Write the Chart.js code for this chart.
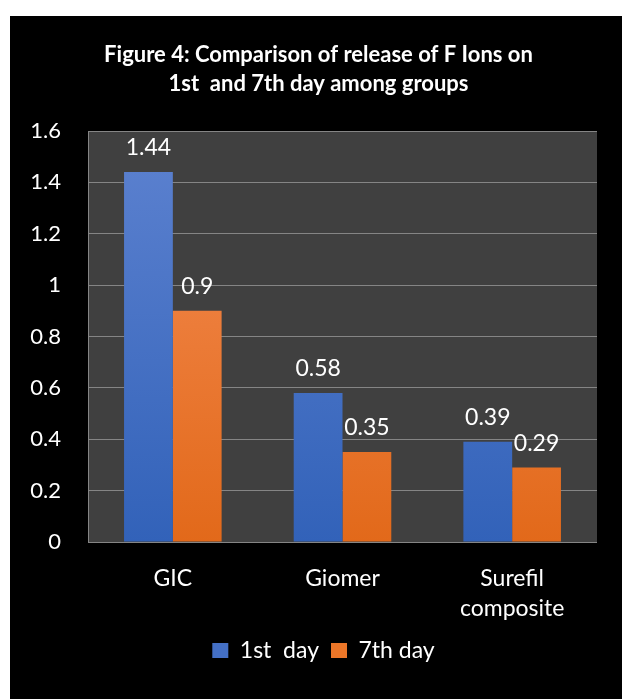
<!DOCTYPE html>
<html>
<head>
<meta charset="utf-8">
<script src="https://cdn.jsdelivr.net/npm/chart.js@4/dist/chart.umd.min.js"></script>
<style>
    body { margin: 0; background: #ffffff; }
    #box { position: absolute; left: 10px; top: 16px; width: 612px; height: 683px; background: #000000; }
</style>
</head>
<body>
<div id="box"><canvas id="barC" width="612" height="683"></canvas></div>
<script>
const groups = ["GIC", "Giomer", ["Surefil", "composite"]];
const day1 = [1.44, 0.58, 0.39];
const day7 = [0.9, 0.35, 0.29];
const seriesNames = ["1st  day", "7th day"];
const titleLines = ["Figure 4: Comparison of release of F Ions on", "1st  and 7th day among groups"];

const fontName = "Lato, 'Noto Sans', sans-serif";

function makeGrad(ctx, top, bottom) {
    let area = ctx.chart.chartArea;
    if (!area) return bottom;
    let g = ctx.chart.ctx.createLinearGradient(0, area.top, 0, area.bottom);
    g.addColorStop(0, top);
    g.addColorStop(1, bottom);
    return g;
}

// dark grey plot area behind the bars
const plotBack = {
    id: "plotBack",
    beforeDraw(chart) {
        let a = chart.chartArea;
        chart.ctx.save();
        chart.ctx.fillStyle = "#404040";
        chart.ctx.fillRect(a.left, a.top, a.right - a.left, a.bottom - a.top);
        chart.ctx.restore();
    },
};

// title and legend sit a bit right of the canvas centre in the original
const nudge = {
    id: "nudge",
    afterLayout(chart) {
        if (chart.titleBlock) {
            chart.titleBlock.left += 15;
            chart.titleBlock.right += 15;
        }
        if (chart.legend) {
            chart.legend.left += 20;
            chart.legend.right += 20;
        }
    },
};

// value labels above each bar
const barValues = {
    id: "barValues",
    afterDatasetsDraw(chart) {
        let c = chart.ctx;
        c.save();
        c.fillStyle = "#ffffff";
        c.font = "23px " + fontName;
        c.textAlign = "center";
        c.textBaseline = "alphabetic";
        chart.data.datasets.forEach((ds, i) => {
            chart.getDatasetMeta(i).data.forEach((bar, j) => {
                c.fillText(String(ds.data[j]), bar.x, bar.y - 17);
            });
        });
        c.restore();
    },
};

new Chart(document.getElementById("barC"), {
    type: "bar",
    data: {
        labels: groups,
        datasets: [
            {
                label: seriesNames[0],
                data: day1,
                backgroundColor: (ctx) => makeGrad(ctx, "#5d82d0", "#3262b9"),
                borderWidth: 0,
            },
            {
                label: seriesNames[1],
                data: day7,
                backgroundColor: (ctx) => makeGrad(ctx, "#f58d55", "#e2691a"),
                borderWidth: 0,
            },
        ],
    },
    options: {
        responsive: false,
        animation: false,
        layout: { padding: { left: 0, right: 25, top: 0, bottom: 27 } },
        datasets: { bar: { barPercentage: 1, categoryPercentage: 0.575 } },
        plugins: {
            title: {
                display: true,
                text: titleLines,
                color: "#ffffff",
                font: { family: fontName, size: 22, weight: "bold", lineHeight: "29px" },
                padding: { top: 24, bottom: 33 },
            },
            legend: {
                position: "bottom",
                labels: {
                    color: "#ffffff",
                    font: { family: fontName, size: 23 },
                    boxWidth: 16,
                    boxHeight: 15,
                    padding: 12,
                    generateLabels(chart) {
                        let items = Chart.defaults.plugins.legend.labels.generateLabels(chart);
                        let cols = ["#4470c6", "#ec7628"];
                        items.forEach((it, i) => {
                            it.fillStyle = cols[i];
                            it.strokeStyle = cols[i];
                            it.lineWidth = 0;
                        });
                        return items;
                    },
                },
            },
            tooltip: { enabled: false },
        },
        scales: {
            x: {
                grid: { display: false, drawTicks: false },
                border: { display: false },
                afterFit(scale) {
                    scale.height = scale.height - 19;
                },
                ticks: {
                    color: "#ffffff",
                    font: { family: fontName, size: 23, lineHeight: "30px" },
                    padding: 22,
                    maxRotation: 0,
                },
            },
            y: {
                min: 0,
                max: 1.6,
                afterFit(scale) {
                    scale.width = 78;
                },
                ticks: {
                    stepSize: 0.2,
                    color: "#ffffff",
                    font: { family: fontName, size: 22 },
                    padding: 27,
                    callback: (v) => Math.round(v * 10) / 10,
                },
                grid: { color: "#858585", lineWidth: 1, drawTicks: false },
                border: { display: true, color: "#858585" },
            },
        },
    },
    plugins: [plotBack, nudge, barValues],
});
</script>
</body>
</html>
